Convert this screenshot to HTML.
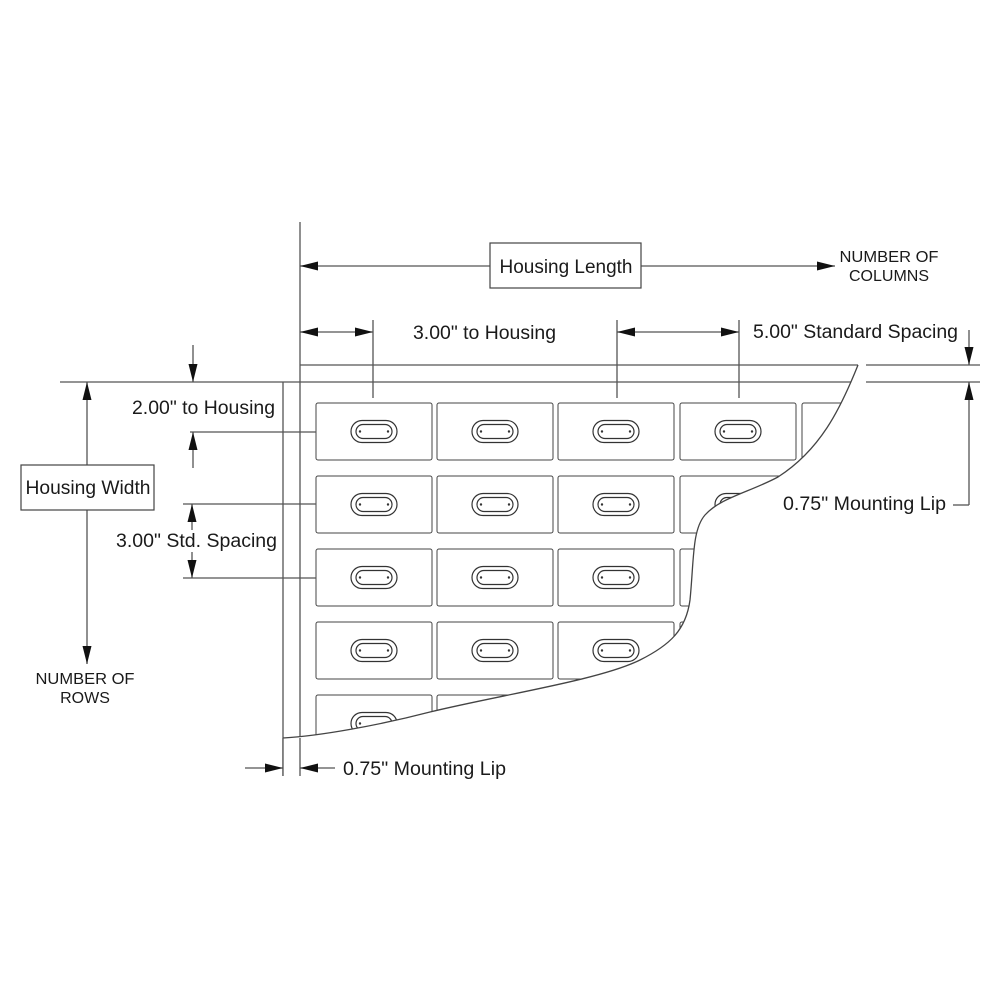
<!DOCTYPE html>
<html><head><meta charset="utf-8"><style>
html,body{margin:0;padding:0;background:#fff}
svg{display:block}
text{font-family:"Liberation Sans",Arial,sans-serif;fill:#1a1a1a}
</style></head><body>
<svg width="1000" height="1000" viewBox="0 0 1000 1000" xmlns="http://www.w3.org/2000/svg">
<defs>
<g id="cell">
<rect x="0" y="0" width="116" height="57" rx="2" fill="#fff" stroke="#444" stroke-width="1"/>
<rect x="35" y="17.5" width="46" height="22" rx="11" fill="none" stroke="#333" stroke-width="1.2"/>
<rect x="40" y="21.5" width="36" height="14" rx="7" fill="none" stroke="#333" stroke-width="1.2"/>
<circle cx="44" cy="28.5" r="1.2" fill="#333"/>
<circle cx="72" cy="28.5" r="1.2" fill="#333"/>
</g>
<marker id="ar" viewBox="0 0 10 10" refX="10" refY="5" markerWidth="18" markerHeight="18" markerUnits="userSpaceOnUse" orient="auto-start-reverse">
<path d="M0,2.5 L10,5 L0,7.5 Z" fill="#111"/>
</marker>
</defs>
<g stroke="#555" stroke-width="1.3" fill="none">
<line x1="300" y1="222" x2="300" y2="776"/>
<line x1="283" y1="382" x2="283" y2="776"/>
<line x1="300" y1="365" x2="858" y2="365"/>
<line x1="60" y1="382" x2="858" y2="382"/>
</g>
<g>
<use href="#cell" x="316" y="403"/><use href="#cell" x="437" y="403"/><use href="#cell" x="558" y="403"/><use href="#cell" x="680" y="403"/><use href="#cell" x="802" y="403"/>
<use href="#cell" x="316" y="476"/><use href="#cell" x="437" y="476"/><use href="#cell" x="558" y="476"/><use href="#cell" x="680" y="476"/>
<use href="#cell" x="316" y="549"/><use href="#cell" x="437" y="549"/><use href="#cell" x="558" y="549"/><use href="#cell" x="680" y="549"/>
<use href="#cell" x="316" y="622"/><use href="#cell" x="437" y="622"/><use href="#cell" x="558" y="622"/><use href="#cell" x="680" y="622"/>
<use href="#cell" x="316" y="695"/><use href="#cell" x="437" y="695"/><use href="#cell" x="558" y="695"/>
</g>
<path d="M858,365 C840,410 820,450 778,477 C750,492 720,498 705,515 C692,530 694,560 690,600 C686,630 670,645 640,660 C600,680 500,695 430,712 C380,725 320,736 283,738 L283,800 L1000,800 L1000,360 Z" fill="#fff"/>
<path d="M858,365 C840,410 820,450 778,477 C750,492 720,498 705,515 C692,530 694,560 690,600 C686,630 670,645 640,660 C600,680 500,695 430,712 C380,725 320,736 283,738" fill="none" stroke="#444" stroke-width="1.3"/>
<g stroke="#555" stroke-width="1.3" fill="none">
<line x1="283" y1="738" x2="283" y2="776"/>
<line x1="300" y1="738" x2="300" y2="776"/>
<line x1="866" y1="365" x2="980" y2="365"/>
<line x1="866" y1="382" x2="980" y2="382"/>
<line x1="300" y1="266" x2="490" y2="266" marker-start="url(#ar)"/>
<line x1="641" y1="266" x2="835" y2="266" marker-end="url(#ar)"/>
<line x1="300" y1="332" x2="373" y2="332" marker-start="url(#ar)" marker-end="url(#ar)"/>
<line x1="373" y1="320" x2="373" y2="398"/>
<line x1="617" y1="320" x2="617" y2="398"/>
<line x1="739" y1="320" x2="739" y2="398"/>
<line x1="617" y1="332" x2="739" y2="332" marker-start="url(#ar)" marker-end="url(#ar)"/>
<line x1="969" y1="330" x2="969" y2="365" marker-end="url(#ar)"/>
<line x1="969" y1="505" x2="969" y2="382" marker-end="url(#ar)"/>
<line x1="953" y1="505" x2="969" y2="505"/>
<line x1="190" y1="432" x2="316" y2="432"/>
<line x1="183" y1="504" x2="316" y2="504"/>
<line x1="183" y1="578" x2="316" y2="578"/>
<line x1="193" y1="345" x2="193" y2="382" marker-end="url(#ar)"/>
<line x1="193" y1="468" x2="193" y2="432" marker-end="url(#ar)"/>
<line x1="192" y1="530" x2="192" y2="504" marker-end="url(#ar)"/>
<line x1="192" y1="552" x2="192" y2="578" marker-end="url(#ar)"/>
<line x1="87" y1="465" x2="87" y2="382" marker-end="url(#ar)"/>
<line x1="87" y1="510" x2="87" y2="664" marker-end="url(#ar)"/>
<line x1="245" y1="768" x2="283" y2="768" marker-end="url(#ar)"/>
<line x1="335" y1="768" x2="300" y2="768" marker-end="url(#ar)"/>
</g>
<g fill="#fff" stroke="#444" stroke-width="1.2">
<rect x="490" y="243" width="151" height="45"/>
<rect x="21" y="465" width="133" height="45"/>
</g>
<g font-size="19">
<text x="566" y="273" text-anchor="middle" textLength="133" lengthAdjust="spacingAndGlyphs">Housing Length</text>
<text x="88" y="494" text-anchor="middle" textLength="125" lengthAdjust="spacingAndGlyphs">Housing Width</text>
<text x="413" y="339" textLength="143" lengthAdjust="spacingAndGlyphs">3.00" to Housing</text>
<text x="753" y="338" textLength="205" lengthAdjust="spacingAndGlyphs">5.00" Standard Spacing</text>
<text x="132" y="414" textLength="143" lengthAdjust="spacingAndGlyphs">2.00" to Housing</text>
<text x="116" y="547" textLength="161" lengthAdjust="spacingAndGlyphs">3.00" Std. Spacing</text>
<text x="783" y="510" textLength="163" lengthAdjust="spacingAndGlyphs">0.75" Mounting Lip</text>
<text x="343" y="775" textLength="163" lengthAdjust="spacingAndGlyphs">0.75" Mounting Lip</text>
</g>
<g font-size="16">
<text x="889" y="262" text-anchor="middle" textLength="99" lengthAdjust="spacingAndGlyphs">NUMBER OF</text>
<text x="889" y="281" text-anchor="middle">COLUMNS</text>
<text x="85" y="684" text-anchor="middle" textLength="99" lengthAdjust="spacingAndGlyphs">NUMBER OF</text>
<text x="85" y="703" text-anchor="middle">ROWS</text>
</g>
</svg>
</body></html>
